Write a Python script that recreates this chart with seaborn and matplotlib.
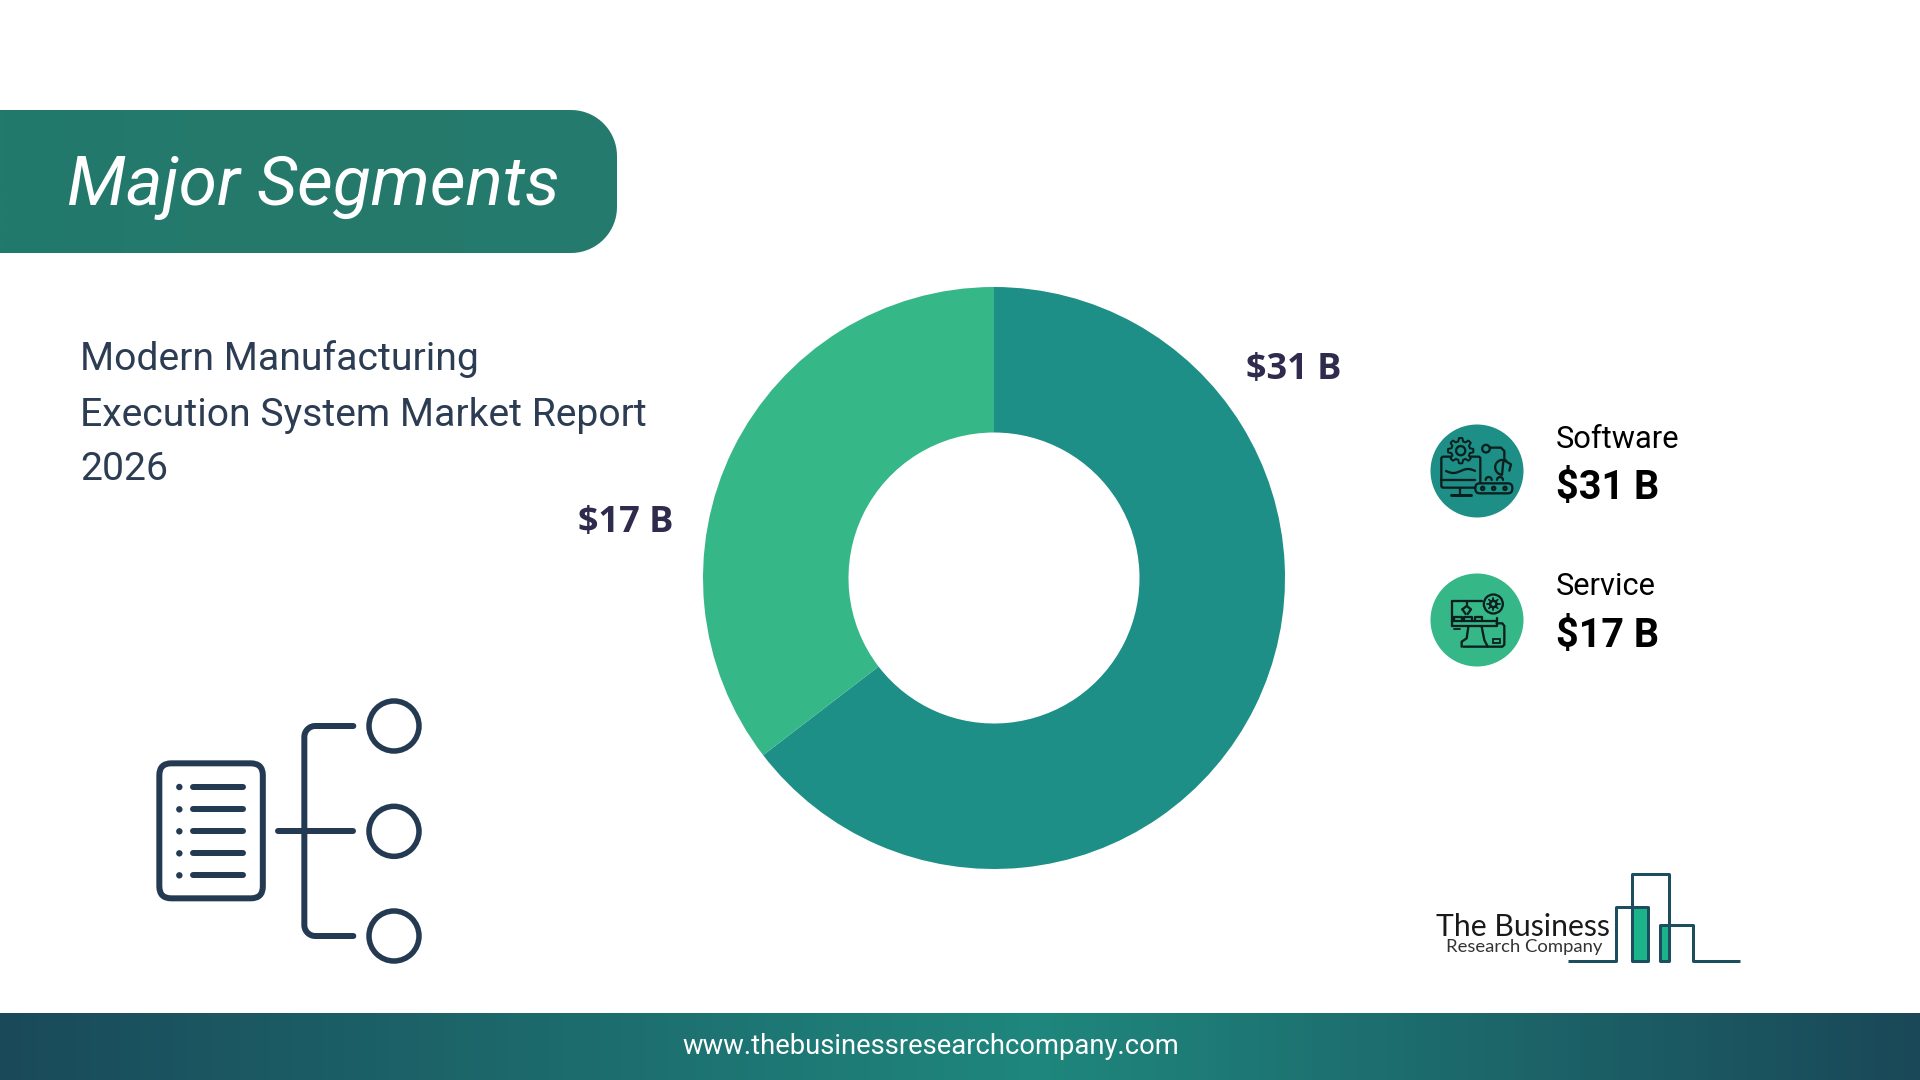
import numpy as np
import matplotlib
matplotlib.use("Agg")
import matplotlib.pyplot as plt
import seaborn as sns
from matplotlib.colors import LinearSegmentedColormap
from matplotlib.patches import Circle, FancyBboxPatch, Polygon, Rectangle

# data
segments = ["Software", "Service"]
values = [31, 17]
value_labels = ["$31 B", "$17 B"]
title = "Major Segments"
report_lines = ["Modern Manufacturing", "Execution System Market Report", "2026"]
footer_url = "www.thebusinessresearchcompany.com"

TEAL = "#1d8f86"
GREEN = "#36b787"
NAVY = "#233a52"
LOGO = "#1c4e60"
INK = "#0c1f1f"
PX = 0.72  # one pixel in points at dpi 100

sns.set_theme(style="white")
plt.rcParams["font.family"] = ["Roboto", "DejaVu Sans"]

fig = plt.figure(figsize=(19.2, 10.8), dpi=100, facecolor="white")

# overlay in pixel coords for the decoration
bg = fig.add_axes([0, 0, 1, 1])
bg.axis("off")


def gradient(ax, x0, x1, y0, y1, stops, clip=None):
    cmap = LinearSegmentedColormap.from_list("g", stops)
    im = ax.imshow(np.linspace(0, 1, 512).reshape(1, -1), extent=[x0, x1, y1, y0],
                   cmap=cmap, aspect="auto", zorder=1)
    if clip is not None:
        im.set_clip_path(clip)
    return im


def arc(cx, cy, r, a0, a1, n=20):
    t = np.radians(np.linspace(a0, a1, n))
    return list(zip(cx + r * np.cos(t), cy + r * np.sin(t)))


bg.set_xlim(0, 1920)
bg.set_ylim(1080, 0)

# header pill
pill = Polygon([(0, 110)] + arc(571, 156, 46, 270, 360) + arc(571, 207, 46, 0, 90) + [(0, 253)],
               closed=True, fc="none", ec="none", transform=bg.transData)
bg.add_patch(pill)
gradient(bg, 0, 617, 110, 253, ["#217a6c", "#26796b", "#247b6d"], clip=pill)
bg.text(67, 187, title, color="white", fontsize=50, style="italic",
        va="center", ha="left", zorder=3)

# footer band
gradient(bg, 0, 1920, 1013, 1080, [(0, "#1a4a5a"), (0.54, "#1f877d"), (1, "#1a4858")])
bg.text(931, 1047, footer_url, color="white", fontsize=19.7, va="center", ha="center", zorder=3)
bg.set_xlim(0, 1920)
bg.set_ylim(1080, 0)

# report name
for line, y in zip(report_lines, [359, 415, 469]):
    bg.text(80, y, line, color="#2c3c53", fontsize=28.2, va="center", ha="left")

# donut
pie_ax = fig.add_axes([(994 - 291) / 1920, 1 - (578 + 291) / 1080, 582 / 1920, 582 / 1080])
pie_ax.pie(values, colors=[TEAL, GREEN], startangle=90, counterclock=False, radius=1,
           wedgeprops={"width": 0.5, "linewidth": 0})
pie_ax.set_xlim(-1, 1)
pie_ax.set_ylim(-1, 1)

for label, (x, y) in zip(value_labels, [(1294, 370), (626, 523)]):
    bg.text(x, y, label, color="#2e2b4d", fontsize=26, fontweight="bold",
            family="Open Sans", ha="center", va="center")

# legend on the right
for name, val, col, cy, y1, y2 in zip(segments, value_labels, [TEAL, GREEN], [471, 620],
                                      [448, 595], [499, 647]):
    bg.add_patch(Circle((1477, cy), 46.5, fc=col, ec="none"))
    bg.text(1556, y1, name, color="black", fontsize=22.2, va="baseline", ha="left")
    bg.text(1556, y2, val, color="black", fontsize=28.5, fontweight="bold", va="baseline", ha="left")


def pl(pts, lw=2.3, col=INK, cap="round"):
    xs, ys = zip(*pts)
    bg.plot(xs, ys, color=col, lw=lw * PX, solid_capstyle=cap, solid_joinstyle="round", zorder=4)


def box(x, y, w, h, r=2, lw=2.3, col=INK, fc="none"):
    bg.add_patch(FancyBboxPatch((x, y), w, h, boxstyle=f"round,pad=0,rounding_size={r}",
                                fc=fc, ec=col, lw=lw * PX, zorder=4))


def ring(x, y, r, lw=2.3, col=INK, fc="none"):
    bg.add_patch(Circle((x, y), r, fc=fc, ec=col, lw=lw * PX, zorder=4))


# software icon, crop coords /3 + (1400, 400)
def z1(x, y):
    return 1400 + x / 3, 400 + y / 3


x, y = z1(124, 170)
box(x, y, 39, 31)
pl([z1(124, 240), z1(225, 240)])
pl([z1(180, 264), z1(180, 282)])
pl([z1(152, 285), z1(212, 285)], lw=3)
xs = np.linspace(138, 225, 30)
pl([z1(v, 213 + 6 * np.sin((v - 138) / 14)) for v in xs])
gx, gy = z1(182, 152)
t = np.radians(np.arange(0, 360, 360 / 48))
rad = 9.5 + 3.2 * (np.cos(8 * t) > 0)
bg.add_patch(Polygon(np.column_stack([gx + rad * np.cos(t), gy + rad * np.sin(t)]), closed=True,
                     fc=TEAL, ec=INK, lw=2.0 * PX, zorder=4, joinstyle="round"))
ring(gx, gy, 4.6)
ring(*z1(258, 146), 3.8)
pl([z1(270, 143), z1(303, 143), z1(313, 153), z1(313, 180)])
pl(arc(*z1(308, 202), 7.5, 95, 265)[::-1] + [z1(310, 185)])
pl(arc(*z1(308, 202), 7.5, -60, -80))
pl([z1(312, 181), z1(333, 193), z1(328, 212)])
x, y = z1(226, 250)
box(x, y, 37, 10, r=4.5, fc=TEAL)
for v in [248, 281, 315]:
    ring(*z1(v, 265), 1.6)
for v in [266, 300]:
    pl(arc(*z1(v, 240), 3, 180, 360))


# service icon, crop coords /3 + (1425, 580)
def z2(x, y):
    return 1425 + x / 3, 580 + y / 3


pl([z2(170, 62), z2(80, 62), z2(80, 138), z2(215, 138), z2(215, 115)])
pl([z2(80, 122), z2(215, 122)])
pl([z2(215, 130), z2(232, 130), z2(238, 138), z2(238, 194), z2(232, 200), z2(115, 200)])
pl([z2(130, 140), z2(125, 175), z2(110, 185), z2(110, 200)])
pl([z2(170, 140), z2(178, 180), z2(188, 200)])
x, y = z2(203, 177)
bg.add_patch(Rectangle((x, y), 7.5, 3.7, fc="none", ec=INK, lw=1.8 * PX, zorder=4))
ring(*z2(205, 72), 9.5)
ring(*z2(205, 72), 3.2, lw=2.6)
sx, sy = z2(205, 72)
for a in np.arange(0, 360, 45):
    c, s = np.cos(np.radians(a)), np.sin(np.radians(a))
    pl([(sx + 3.2 * c, sy + 3.2 * s), (sx + 6.2 * c, sy + 6.2 * s)], lw=1.8)
for v in [100, 130, 162]:
    pl([z2(v - 12, 122), z2(v - 12, 110), z2(v + 10, 110), z2(v + 10, 122)])
pl([z2(125, 62), z2(125, 78)])
pl([z2(112, 88), z2(125, 78), z2(138, 88), z2(128, 102)])
pl([z2(112, 88), z2(122, 102)])
pl([z2(88, 146), z2(104, 146)], lw=1.8)


# list icon on the lower left, crop coords /3 + (130, 680)
def z3(x, y):
    return 130 + x / 3, 680 + y / 3


x, y = z3(88, 250)
box(x, y, 103.5, 135, r=12, lw=6, col=NAVY)
for v in [321, 388, 454, 520, 586]:
    pl([z3(190, v), z3(340, v)], lw=6, col=NAVY)
    bg.add_patch(Circle(z3(148, v), 3.2, fc=NAVY, ec="none", zorder=4))
pl([z3(445, 454), z3(670, 454)], lw=6, col=NAVY)
rc = 11
bx, top, bot = z3(523, 138)[0], z3(0, 138)[1], z3(0, 768)[1]
bracket = ([z3(670, 138)] + arc(bx + rc, top + rc, rc, 270, 180) + arc(bx + rc, bot - rc, rc, 180, 90)
           + [z3(670, 768)])
pl(bracket, lw=6, col=NAVY)
for v in [138, 454, 768]:
    ring(*z3(792, v), 25, lw=5.5, col=NAVY)


# logo, crop coords /3 + (1400, 850)
def z4(x, y):
    return 1400 + x / 3, 850 + y / 3


x, y = z4(697, 170)
bg.add_patch(Rectangle((x, y), 16, 54, fc="#1db38a", ec="none", zorder=3))
x, y = z4(780, 225)
bg.add_patch(Rectangle((x, y), 9, 36, fc="#1db38a", ec="none", zorder=3))
logo_pts = [(505, 332), (648, 332), (648, 170), (745, 170), (745, 332), (697, 332), (697, 72),
            (807, 72), (807, 332), (780, 332), (780, 225), (878, 225), (878, 332), (1020, 332)]
pl([z4(a, b) for a, b in logo_pts], lw=3, col=LOGO, cap="butt")
bg.text(1436, 936, "The Business", color="#1a1a1a", fontsize=21.7, family="Lato",
        va="baseline", ha="left", zorder=5)
bg.text(1446, 952, "Research Company", color="#333333", fontsize=13.3, family="Lato",
        va="baseline", ha="left", zorder=5)

bg.set_xlim(0, 1920)
bg.set_ylim(1080, 0)
fig.savefig("out.png", dpi=100, facecolor="white")
